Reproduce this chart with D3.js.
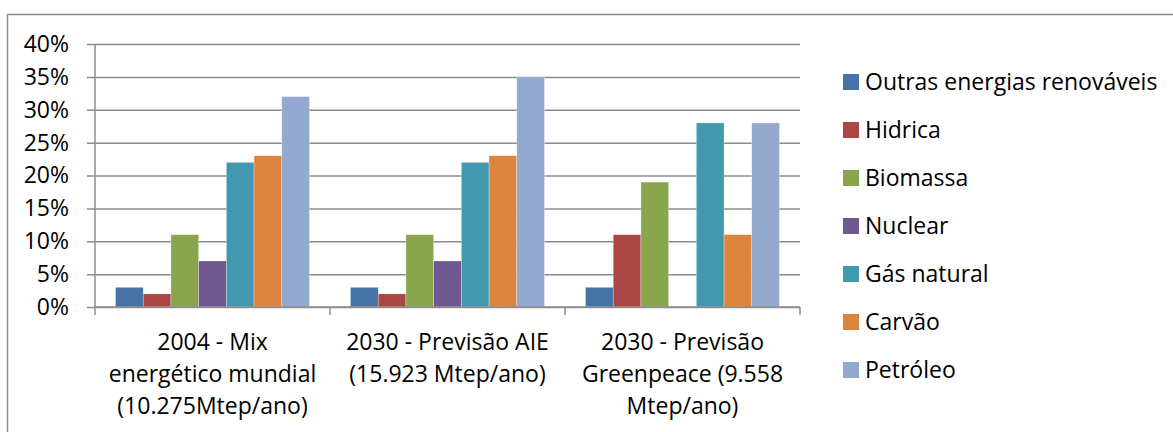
<!DOCTYPE html>
<html>
<head>
<meta charset="utf-8">
<script src="https://cdn.jsdelivr.net/npm/d3@7"></script>
<style>
  body { margin: 0; background: #fff; }
  text { font-family: "Open Sans", "Noto Sans", sans-serif; fill: #000; }
</style>
</head>
<body>
<script>
// categories (x labels, already wrapped like in the picture)
var categories = ["2004", "2030 AIE", "2030 Greenpeace"];
var categoryLines = [
  ["2004 - Mix", "energético mundial", "(10.275Mtep/ano)"],
  ["2030 - Previsão AIE", "(15.923 Mtep/ano)"],
  ["2030 - Previsão", "Greenpeace (9.558", "Mtep/ano)"]
];
var seriesNames = ["Outras energias renováveis", "Hidrica", "Biomassa", "Nuclear", "Gás natural", "Carvão", "Petróleo"];
// one array per category, in series order (percent)
var mix2004 = [3, 2, 11, 7, 22, 23, 32];
var aie2030 = [3, 2, 11, 7, 22, 23, 35];
var greenpeace2030 = [3, 11, 19, 0, 28, 11, 28];
var yTicks = [0, 5, 10, 15, 20, 25, 30, 35, 40];
var colors = ["#4572A7", "#AA4643", "#89A54E", "#71588F", "#4198AF", "#DB843D", "#93A9CF"];

var values = [mix2004, aie2030, greenpeace2030];

var W = 1173, H = 432;
var plotL = 95, plotR = 800, plotT = 44, plotB = 307;
var fs = 23;

var svg = d3.select("body").append("svg")
  .attr("width", W).attr("height", H);

// outer chart border
svg.append("rect")
  .attr("x", 7.5).attr("y", 14.5)
  .attr("width", W).attr("height", H)
  .attr("fill", "none").attr("stroke", "#8c8c8c").attr("stroke-width", 1.5);

var x0 = d3.scaleBand().domain(categories).range([plotL, plotR]);
var x1 = d3.scaleBand().domain(seriesNames)
  .range([0, x0.bandwidth()]).paddingOuter(0.74).paddingInner(0);
var y = d3.scaleLinear().domain([0, 40]).range([plotB, plotT]);

// gridlines + y labels
var yAxis = d3.axisLeft(y).tickValues(yTicks)
  .tickFormat(function(d){ return d + "%"; })
  .tickSize(-(plotR - plotL + 8)).tickSizeOuter(0).tickPadding(18);
var gy = svg.append("g").attr("transform", "translate(" + (plotL - 8) + ",0)").call(yAxis);
gy.select(".domain").remove();
gy.selectAll(".tick line").attr("stroke", "#8c8c8c").attr("stroke-width", 1.5);
gy.selectAll(".tick text").attr("font-size", fs)
  .style("font-family", "'Open Sans', sans-serif").attr("fill", "#000");

// y axis line
svg.append("line")
  .attr("x1", plotL).attr("x2", plotL).attr("y1", plotT).attr("y2", plotB)
  .attr("stroke", "#8c8c8c").attr("stroke-width", 1.5);

// bars
var groups = svg.selectAll("g.cat").data(values).enter().append("g")
  .attr("class", "cat")
  .attr("transform", function(d, i){ return "translate(" + x0(categories[i]) + ",0)"; });

groups.selectAll("rect").data(function(d){ return d; }).enter().append("rect")
  .attr("x", function(d, i){ return x1(seriesNames[i]); })
  .attr("y", function(d){ return y(d); })
  .attr("width", x1.bandwidth())
  .attr("height", function(d){ return plotB - y(d); })
  .attr("fill", function(d, i){ return colors[i]; })
  .attr("stroke", "#ffffff").attr("stroke-opacity", 0.5).attr("stroke-width", 0.6);

// x axis line and category ticks
var xEdges = categories.map(function(c){ return x0(c); }).concat([plotR]);
svg.append("line")
  .attr("x1", plotL).attr("x2", plotR).attr("y1", plotB).attr("y2", plotB)
  .attr("stroke", "#8c8c8c").attr("stroke-width", 1.5);
svg.selectAll("line.xt").data(xEdges).enter().append("line")
  .attr("class", "xt")
  .attr("x1", function(d){ return d; }).attr("x2", function(d){ return d; })
  .attr("y1", plotB).attr("y2", plotB + 8)
  .attr("stroke", "#8c8c8c").attr("stroke-width", 1.5);

// x labels
svg.selectAll("text.xl").data(categoryLines).enter().append("text")
  .attr("class", "xl")
  .attr("text-anchor", "middle")
  .attr("font-size", fs)
  .each(function(lines, i){
    var t = d3.select(this);
    lines.forEach(function(l, j){
      t.append("tspan")
        .attr("x", x0(categories[i]) + x0.bandwidth() / 2)
        .attr("y", 342 + j * 32)
        .attr("dy", "0.35em")
        .text(l);
    });
  });

// legend
var legend = svg.selectAll("g.leg").data(seriesNames).enter().append("g")
  .attr("class", "leg")
  .attr("transform", function(d, i){ return "translate(843," + (82 + i * 48) + ")"; });
legend.append("rect")
  .attr("x", 0).attr("y", -8).attr("width", 16).attr("height", 16)
  .attr("fill", function(d, i){ return colors[i]; });
legend.append("text")
  .attr("x", 22).attr("dy", "0.35em")
  .attr("font-size", fs)
  .text(function(d){ return d; });
</script>
</body>
</html>
